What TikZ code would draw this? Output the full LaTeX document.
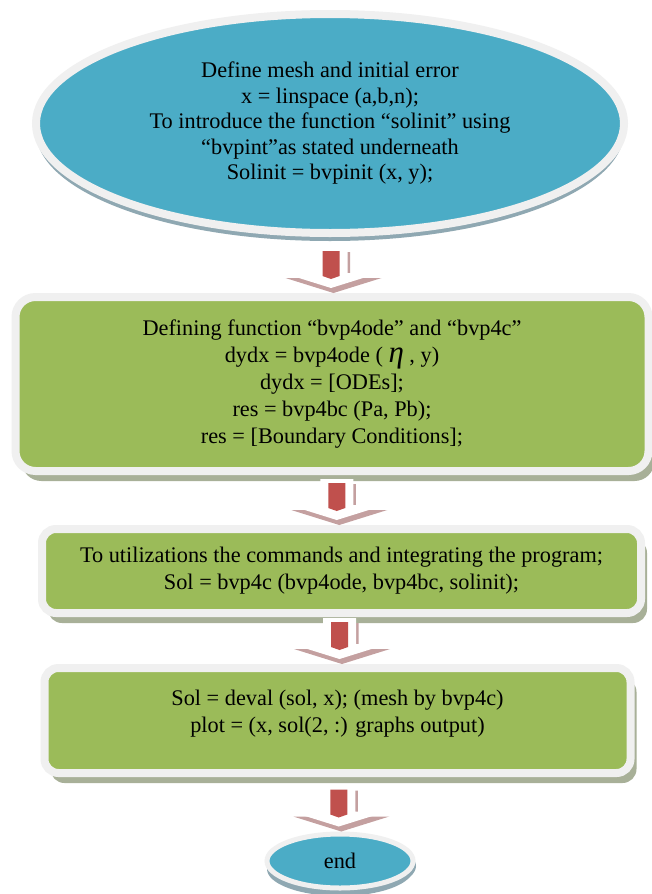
\documentclass[tikz,border=0pt]{standalone}
\usepackage{fontspec}
\setmainfont{Liberation Serif}
\usepackage{tikz}
\usetikzlibrary{shapes.geometric,shadows,calc}

\definecolor{capblue}{HTML}{4BACC6}
\definecolor{stepgreen}{HTML}{9BBB59}
\definecolor{stemred}{HTML}{C0504D}
\definecolor{rimgray}{HTML}{F0F0F0}
\definecolor{capshade}{HTML}{8FA8B2}
\definecolor{stepshade}{HTML}{A8B098}
\definecolor{arrowshade}{HTML}{C4A0A0}

\tikzset{
	capsule/.style={ellipse, fill=capblue, draw=rimgray, line width=8pt, align=center,
		font=\fontsize{22.3}{25.5}\selectfont, inner sep=0pt,
		drop shadow={shadow xshift=0pt, shadow yshift=-8pt, fill=capshade, opacity=1}},
	stepbox/.style={rectangle, rounded corners=14pt, fill=stepgreen, draw=rimgray, line width=8pt,
		align=center, font=\fontsize{22.3}{27}\selectfont, inner sep=0pt,
		drop shadow={shadow xshift=6pt, shadow yshift=-10pt, fill=stepshade, opacity=1}}
}

\newcommand{\flowarrow}[2]{%
	\coordinate (mid) at ($(#1.south)!.5!(#2.north)$);
	\coordinate (tip) at (mid |- #2.north);
	\begin{scope}[shift={(tip)}]
		\fill[arrowshade] (-14,-41) -- (19,-41) -- (19,-15) -- (50.5,-15) -- (2.5,0) -- (-45.5,-15) -- (-14,-15) -- cycle;
		\fill[white] (-16.5,-46) -- (16.5,-46) -- (16.5,-20) -- (48,-20) -- (0,-5) -- (-48,-20) -- (-16.5,-20) -- cycle;
		\fill[stemred] (-8.5,-42) -- (8.5,-42) -- (8.5,-17) -- (0,-14) -- (-8.5,-17) -- cycle;
	\end{scope}}

\begin{document}
\begin{tikzpicture}[x=1pt, y=-1pt]
	\useasboundingbox[fill=white] (0,0) rectangle (652,894);
	\node[capsule, minimum width=588pt, minimum height=219pt] (start) at (330,123.5)
		{Define mesh and initial error\\ x = linspace (a,b,n);\\ To introduce the function “solinit” using\\ “bvpint”as stated underneath\\ Solinit = bvpinit (x, y);};
	\node[stepbox, minimum width=633pt, minimum height=174pt, rounded corners=20pt] (define) at (332,384)
		{Defining function “bvp4ode” and “bvp4c”\\ dydx = bvp4ode ( {\fontsize{31}{27}\selectfont\itshape η} , y)\\ dydx = [ODEs];\\ res = bvp4bc (Pa, Pb);\\ res = [Boundary Conditions];};
	\node[stepbox, minimum width=599pt, minimum height=84pt] (solve) at (341.5,571)
		{To utilizations the commands and integrating the program;\\ Sol = bvp4c (bvp4ode, bvp4bc, solinit);};
	\node[stepbox, minimum width=586pt, minimum height=105pt, text depth=19pt] (output) at (337.5,720.5)
		{Sol = deval (sol, x); (mesh by bvp4c)\\ plot = (x, sol(2, :) graphs output)};
	\node[capsule, minimum width=146pt, minimum height=54pt, line width=5pt,
		drop shadow={shadow xshift=3pt, shadow yshift=-5pt, fill=capshade, opacity=1}] (finish) at (340,861) {end};
	\foreach \a/\b in {start/define, define/solve, solve/output, output/finish}
	{
		\flowarrow{\a}{\b}
	}
\end{tikzpicture}
\end{document}
